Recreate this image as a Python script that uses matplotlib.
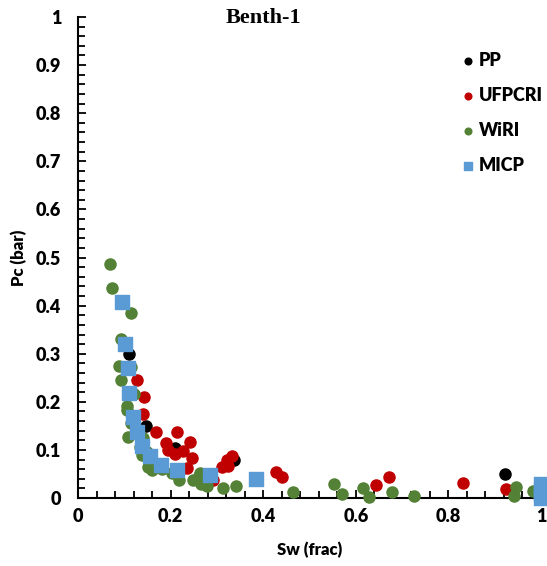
import matplotlib
matplotlib.use("Agg")
import matplotlib.pyplot as plt
from matplotlib.ticker import MultipleLocator

# ----
# Data
# ----
pp_sw = [0.110, 0.147, 0.210, 0.337, 0.922]
pp_pc = [0.300, 0.150, 0.104, 0.080, 0.050]

ufp_sw = [0.127, 0.143, 0.140, 0.168, 0.214, 0.190, 0.242, 0.194, 0.210, 0.227,
          0.246, 0.235, 0.220, 0.292, 0.311, 0.322, 0.333, 0.324, 0.428, 0.441,
          0.644, 0.672, 0.832, 0.924]
ufp_pc = [0.245, 0.210, 0.175, 0.137, 0.137, 0.114, 0.116, 0.100, 0.091, 0.098,
          0.083, 0.062, 0.058, 0.037, 0.064, 0.079, 0.087, 0.067, 0.054, 0.044,
          0.027, 0.044, 0.031, 0.019]

wiri_sw = [0.069, 0.073, 0.114, 0.093, 0.089, 0.114, 0.093, 0.121, 0.106, 0.106,
           0.114, 0.108, 0.127, 0.140, 0.134, 0.149, 0.138, 0.151, 0.160, 0.181,
           0.203, 0.218, 0.248, 0.263, 0.261, 0.265, 0.279, 0.313, 0.341, 0.465,
           0.553, 0.570, 0.615, 0.628, 0.678, 0.726, 0.946, 0.942, 0.983]
wiri_pc = [0.487, 0.437, 0.385, 0.330, 0.274, 0.272, 0.245, 0.216, 0.191, 0.183,
           0.156, 0.127, 0.141, 0.125, 0.106, 0.096, 0.089, 0.064, 0.058, 0.060,
           0.052, 0.037, 0.037, 0.052, 0.046, 0.029, 0.025, 0.021, 0.025, 0.013,
           0.029, 0.008, 0.021, 0.003, 0.012, 0.004, 0.023, 0.004, 0.015]

micp_sw = [0.095, 0.101, 0.108, 0.110, 0.119, 0.127, 0.138, 0.156, 0.179, 0.214,
           0.285, 0.384, 1.000, 1.000, 1.000, 1.000]
micp_pc = [0.407, 0.320, 0.270, 0.218, 0.168, 0.137, 0.108, 0.087, 0.069, 0.058,
           0.048, 0.040, 0.030, 0.018, 0.008, 0.000]

# ----
# Plot
# ----
plt.rcParams['font.family'] = ['Lato', 'DejaVu Sans']
fig = plt.figure(figsize=(5.47, 5.66), dpi=100)
ax = fig.add_axes([0.1426, 0.120, 0.8464, 0.850])

ax.scatter(pp_sw, pp_pc, s=64, color="black", label="PP", zorder=3, clip_on=False)
ax.scatter(ufp_sw, ufp_pc, s=64, color="#c00000", label="UFPCRI", zorder=3, clip_on=False)
ax.scatter(wiri_sw, wiri_pc, s=64, color="#538135", label="WiRI", zorder=3, clip_on=False)
ax.scatter(micp_sw, micp_pc, s=100, marker="s", color="#5b9bd5", label="MICP",
           zorder=4, clip_on=False)

ax.set_xlim(0, 1)
ax.set_ylim(0, 1)
ax.xaxis.set_major_locator(MultipleLocator(0.2))
ax.xaxis.set_minor_locator(MultipleLocator(0.04))
ax.yaxis.set_major_locator(MultipleLocator(0.1))
ax.yaxis.set_minor_locator(MultipleLocator(0.02))
ax.set_xticks([0, 0.2, 0.4, 0.6, 0.8, 1.0], ["0", "0.2", "0.4", "0.6", "0.8", "1"])
ax.set_yticks([i / 10 for i in range(11)],
              ["0", "0.1", "0.2", "0.3", "0.4", "0.5", "0.6", "0.7", "0.8", "0.9", "1"])

for side in ["top", "right"]:
    ax.spines[side].set_visible(False)
for side in ["left", "bottom"]:
    ax.spines[side].set_linewidth(1.5)

ax.tick_params(axis="both", which="both", direction="in", width=1.3)
ax.tick_params(axis="both", which="major", length=6, labelsize=13)
ax.tick_params(axis="both", which="minor", length=5)
ax.tick_params(axis="y", which="major", pad=12)
ax.tick_params(axis="x", which="major", pad=7)
for lbl in ax.get_xticklabels() + ax.get_yticklabels():
    lbl.set_fontweight("heavy")

ax.set_xlabel("Sw (frac)", fontsize=12, fontweight="heavy", labelpad=12)
ax.set_ylabel("Pc (bar)", fontsize=12, fontweight="heavy", labelpad=6)

fig.text(263 / 547, 1 - 18 / 566, "Benth-1", ha="center", va="center",
         fontsize=16, fontweight="bold", family=["Liberation Serif", "DejaVu Serif"])

leg = ax.legend(loc="upper left", bbox_to_anchor=(0.787, 0.962), frameon=False,
                markerscale=0.6, labelspacing=1.0, handletextpad=0.1,
                handlelength=1.0, prop={"weight": "heavy", "size": 13})

plt.savefig("out.png", dpi=100)
